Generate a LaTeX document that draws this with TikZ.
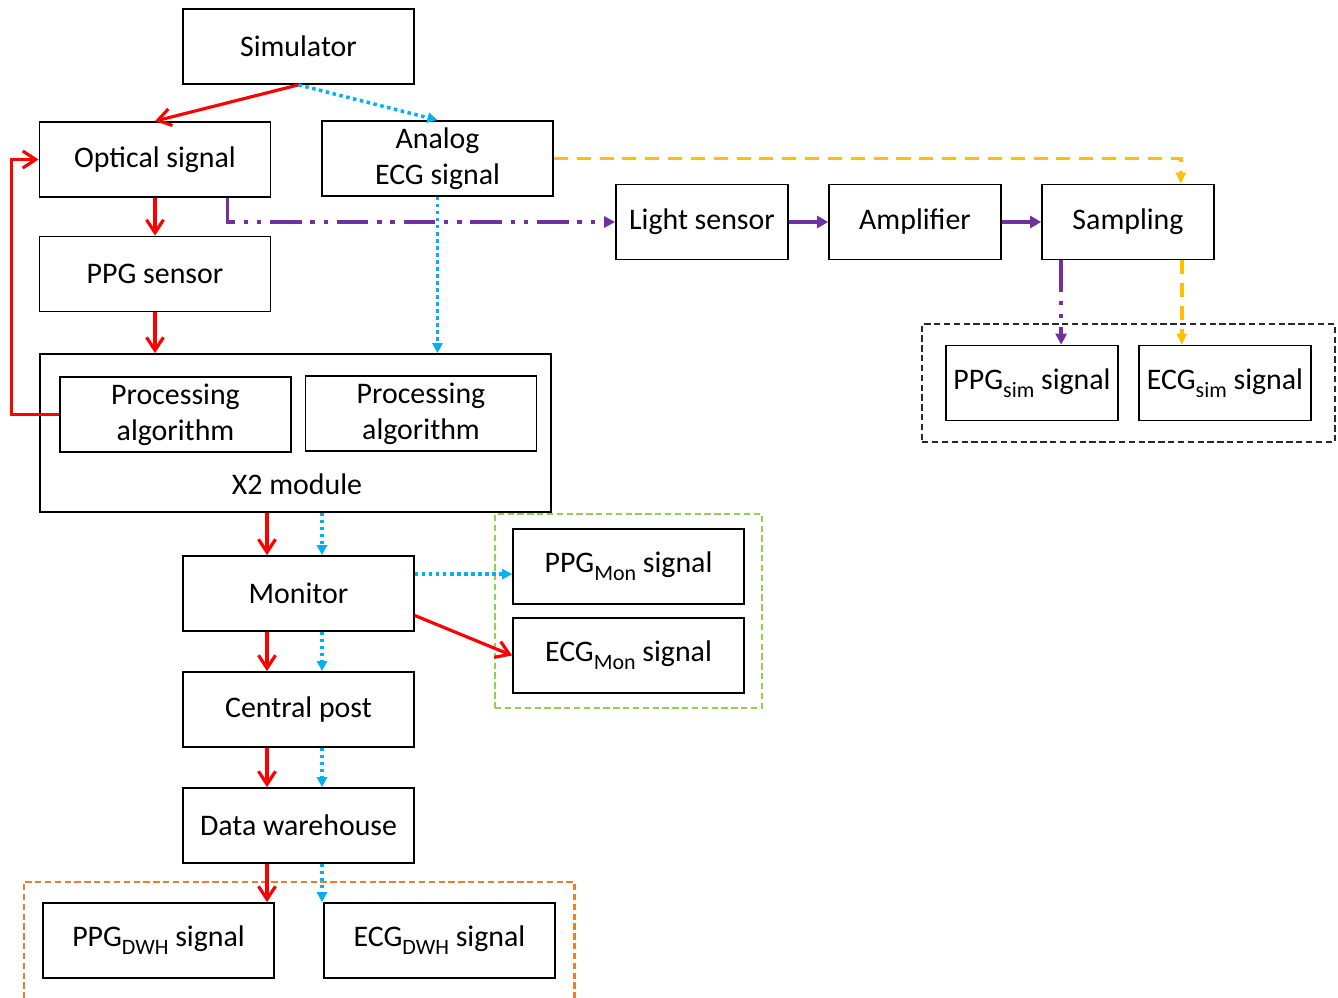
\documentclass[tikz,border=0pt]{standalone}
\usepackage{fontspec}
\setmainfont{Carlito}
\usepackage{tikz}
\usetikzlibrary{arrows.meta,calc,fit}

\definecolor{sigred}{RGB}{255,0,0}
\definecolor{sigblue}{RGB}{0,176,240}
\definecolor{sigpurple}{RGB}{112,48,160}
\definecolor{sigyellow}{RGB}{255,192,0}
\definecolor{siggreen}{RGB}{146,208,80}
\definecolor{sigorange}{RGB}{237,125,49}
\definecolor{groupgray}{RGB}{40,40,40}
\newcommand{\lowtext}[1]{\raisebox{-4.5pt}{\fontsize{12.5}{12}\selectfont #1}}

\tikzset{
	box/.style={draw=black,line width=1pt,minimum width=4.62cm,minimum height=1.5cm,inner sep=0pt,align=center,font=\fontsize{17}{20.5}\selectfont},
	smallbox/.style={box,minimum width=3.44cm},
	redline/.style={sigred,line width=1.8pt,-{Straight Barb[length=0.26cm,width=0.34cm,line width=1.8pt]}},
	blueline/.style={sigblue,line width=2pt,dash pattern=on 2pt off 2pt,-{Triangle[length=0.2cm,width=0.2cm]}},
	purpleline/.style={sigpurple,line width=2pt,dash pattern=on 18pt off 5pt on 2.5pt off 5pt on 2.5pt off 5pt,-{Triangle[length=0.22cm,width=0.22cm]}},
	purplesolid/.style={sigpurple,line width=2.4pt,-{Triangle[length=0.22cm,width=0.24cm]}},
	yellowline/.style={sigyellow,line width=2pt,dash pattern=on 8pt off 5pt,-{Triangle[length=0.22cm,width=0.2cm]}},
	groupbox/.style={line width=1.3pt,dash pattern=on 3.6pt off 2pt,inner sep=0pt}
}

\begin{document}
\begin{tikzpicture}[line join=miter,x=0.02cm,y=-0.02cm]
		\useasboundingbox (0,0) rectangle (1338,997);
		% columns of the red and blue flows
		\coordinate (rc) at (267,0);
		\coordinate (bc) at (322,0);
		% blocks
		\node[box] (sim) at (298.5,46.5) {Simulator};
		\node[box] (opt) at (155,159.5) {Optical signal};
		\node[box] (ana) at (437.5,158.5) {Analog\\ECG signal};
		\node[box] (ppg) at (155,274) {PPG sensor};
		\node[draw=black,line width=1pt,minimum width=10.22cm,minimum height=3.16cm] (x2) at (295.5,433) {};
		\node[font=\fontsize{17}{20.5}\selectfont] (x2lbl) at (297,484) {X2 module};
		\node[box] (alg1) at (175.5,414.5) {Processing\\algorithm};
		\node[box] (alg2) at (421,413.5) {Processing\\algorithm};
		\node[smallbox] (light) at (702,222) {Light sensor};
		\node[smallbox] (amp) at (915,222) {Amplifier};
		\node[smallbox] (samp) at (1128,222) {Sampling};
		\node[smallbox] (psim) at (1032,383) {PPG\lowtext{sim} signal};
		\node[smallbox] (esim) at (1225,383) {ECG\lowtext{sim} signal};
		\node[box] (mon) at (298.5,593.5) {Monitor};
		\node[box] (pmon) at (628.5,566.5) {PPG\lowtext{Mon} signal};
		\node[box] (emon) at (628.5,655.5) {ECG\lowtext{Mon} signal};
		\node[box] (cpost) at (298.5,709.5) {Central post};
		\node[box] (dwh) at (298.5,825.5) {Data warehouse};
		\node[box] (pdwh) at (158.5,940.5) {PPG\lowtext{DWH} signal};
		\node[box] (edwh) at (439.5,940.5) {ECG\lowtext{DWH} signal};
		% groups
		\node[groupbox,draw=groupgray,line width=1.5pt,fit=(psim)(esim),inner xsep=0.46cm,inner ysep=0.41cm] (simgroup) {};
		\node[groupbox,draw=siggreen,fit=(pmon)(emon),inner xsep=0.34cm,inner ysep=0.28cm] (mongroup) {};
		\node[groupbox,draw=sigorange,fit=(pdwh)(edwh),inner xsep=0.37cm,inner ysep=0.4cm] (dwhgroup) {};
		% red flow
		\draw[redline] (sim.south) -- (opt.north);
		\draw[redline] (opt.south) -- (ppg.north);
		\draw[redline] (ppg.south) -- (ppg.south |- x2.north);
		\draw[redline] (alg1.west) -- ++(-48,0) |- (opt.west);
		\draw[redline] (x2.south -| rc) -- (mon.north -| rc);
		\draw[redline] (mon.south -| rc) -- (cpost.north -| rc);
		\draw[redline] (cpost.south -| rc) -- (dwh.north -| rc);
		\draw[redline] (dwh.south -| rc) -- (pdwh.north -| rc);
		\draw[redline] ($(mon.east)+(0,22)$) -- (emon.west);
		% blue flow
		\draw[blueline] (sim.south) -- (ana.north);
		\draw[blueline] (ana.south) -- (ana.south |- x2.north);
		\draw[blueline] (x2.south -| bc) -- (mon.north -| bc);
		\draw[blueline] (mon.south -| bc) -- (cpost.north -| bc);
		\draw[blueline] (cpost.south -| bc) -- (dwh.north -| bc);
		\draw[blueline] (dwh.south -| bc) -- (edwh.north -| bc);
		\coordinate (monout) at ($(mon.north east)+(0,19)$);
		\draw[blueline] (monout) -- (monout -| pmon.west);
		% simulated signal path
		\draw[purpleline] ($(opt.south east)+(-44,0)$) |- (light.west);
		\draw[purplesolid] (light.east) -- (amp.west);
		\draw[purplesolid] (amp.east) -- (samp.west);
		\coordinate (sampl) at ($(samp.south west)+(20,0)$);
		\coordinate (sampr) at ($(samp.south east)+(-33,0)$);
		\draw[purpleline] (sampl) -- (sampl |- psim.north);
		\draw[yellowline] (ana.east) -| ($(samp.north east)+(-34,0)$);
		\draw[yellowline] (sampr) -- (sampr |- esim.north);
	\end{tikzpicture}
\end{document}
